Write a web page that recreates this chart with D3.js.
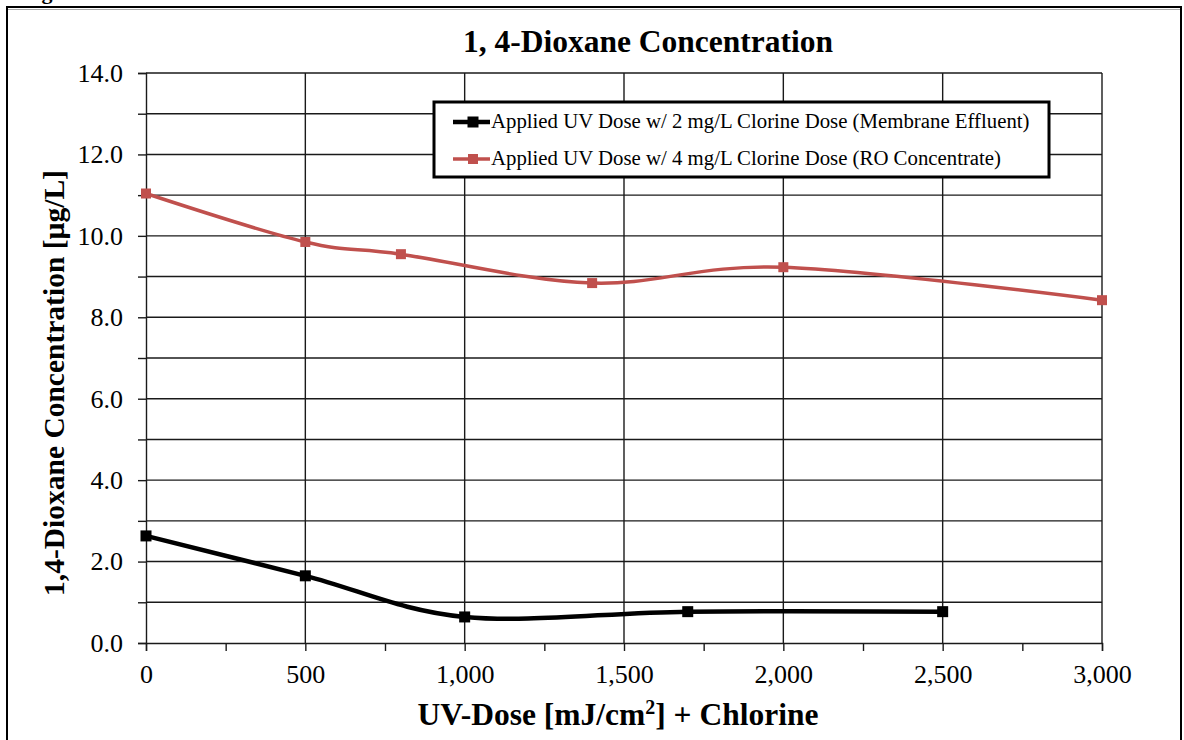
<!DOCTYPE html>
<html>
<head>
<meta charset="utf-8">
<script src="https://cdn.jsdelivr.net/npm/d3@7"></script>
<style>
  html, body { margin: 0; padding: 0; background: #fff; }
  svg { display: block; }
  text { font-family: "Liberation Serif", "Times New Roman", serif; fill: #000; }
</style>
</head>
<body>
<svg id="chart" width="1184" height="740"></svg>
<script>
// UV dose (mJ/cm²) and 1,4-dioxane concentration (µg/L)
const membraneDose = [0, 500, 1000, 1700, 2500];
const membraneConc = [2.63, 1.65, 0.64, 0.77, 0.77];
const roDose = [0, 500, 800, 1400, 2000, 3000];
const roConc = [11.04, 9.85, 9.55, 8.84, 9.23, 8.42];

const seriesNames = [
  "Applied UV Dose w/ 2 mg/L  Clorine Dose (Membrane Effluent)",
  "Applied UV Dose w/ 4 mg/L  Clorine Dose (RO Concentrate)"
];
const yTickValues = [0, 2, 4, 6, 8, 10, 12, 14];
const xTickValues = [0, 500, 1000, 1500, 2000, 2500, 3000];

const svg = d3.select("#chart");
const m = { left: 146, right: 1102, top: 73, bottom: 643 };

// outer frame
svg.append("rect").attr("x", 7).attr("y", 7).attr("width", 1174).attr("height", 740)
  .attr("fill", "none").attr("stroke", "#000").attr("stroke-width", 2);
svg.append("line").attr("x1", 8).attr("x2", 1180).attr("y1", 9.5).attr("y2", 9.5)
  .attr("stroke", "#aaa").attr("stroke-width", 1);
// caption running above the frame
svg.append("text").attr("x", 22).attr("y", -1).attr("font-size", 22).attr("font-weight", "bold")
  .text("Figure 4-10");

const x = d3.scaleLinear().domain([0, 3000]).range([m.left, m.right]);
const y = d3.scaleLinear().domain([0, 14]).range([m.bottom, m.top]);

// gridlines
const grid = svg.append("g").attr("stroke", "#1a1a1a").attr("stroke-width", 1.4);
d3.range(1, 15).forEach(v => {
  grid.append("line").attr("x1", m.left).attr("x2", m.right)
    .attr("y1", y(v)).attr("y2", y(v));
});
xTickValues.slice(1).forEach(v => {
  grid.append("line").attr("x1", x(v)).attr("x2", x(v))
    .attr("y1", m.top).attr("y2", m.bottom);
});

// y axis
const yAxis = d3.axisLeft(y).tickValues(d3.range(0, 15)).tickSize(8)
  .tickFormat(d => yTickValues.includes(d) ? d3.format(".1f")(d) : "");
const gy = svg.append("g").attr("transform", `translate(${m.left},0)`).call(yAxis);
gy.selectAll("path, line").attr("stroke", "#1a1a1a").attr("stroke-width", 1.4);
gy.selectAll("text").attr("font-size", 26).attr("font-family", "Liberation Serif")
  .attr("x", -23).attr("fill", "#000");

// x axis
const xAxis = d3.axisBottom(x).tickValues(d3.range(0, 3001, 250)).tickSize(8)
  .tickFormat(d => xTickValues.includes(d) ? d3.format(",")(d) : "");
const gx = svg.append("g").attr("transform", `translate(0,${m.bottom})`).call(xAxis);
gx.selectAll("path, line").attr("stroke", "#1a1a1a").attr("stroke-width", 1.4);
gx.selectAll("text").attr("font-size", 26).attr("font-family", "Liberation Serif")
  .attr("y", 22).attr("fill", "#000");

// titles
svg.append("text").attr("x", 648).attr("y", 52).attr("text-anchor", "middle")
  .attr("font-size", 31.5).attr("font-weight", "bold").text("1, 4-Dioxane Concentration");
svg.append("text").attr("transform", "translate(64,383) rotate(-90)")
  .attr("text-anchor", "middle").attr("font-size", 29.5).attr("font-weight", "bold")
  .text("1,4-Dioxane Concentration [µg/L]");
const xl = svg.append("text").attr("x", 618).attr("y", 725).attr("text-anchor", "middle")
  .attr("font-size", 31.5).attr("font-weight", "bold");
xl.append("tspan").text("UV-Dose [mJ/cm");
xl.append("tspan").attr("font-size", 20).attr("dy", -11).text("2");
xl.append("tspan").attr("dy", 11).text("] + Chlorine");

// series
const line = d3.line().x(d => x(d[0])).y(d => y(d[1])).curve(d3.curveCardinal.tension(0));
const series = [
  { dose: membraneDose, conc: membraneConc, color: "#000000", width: 4.5, size: 11 },
  { dose: roDose, conc: roConc, color: "#C0504D", width: 3.5, size: 10 }
];
series.forEach(s => {
  const pts = s.dose.map((d, i) => [d, s.conc[i]]);
  svg.append("path").datum(pts).attr("d", line).attr("fill", "none")
    .attr("stroke", s.color).attr("stroke-width", s.width).attr("stroke-linejoin", "round");
  svg.append("g").selectAll("rect").data(pts).join("rect")
    .attr("x", d => x(d[0]) - s.size / 2).attr("y", d => y(d[1]) - s.size / 2)
    .attr("width", s.size).attr("height", s.size).attr("fill", s.color);
});

// legend
const lg = svg.append("g");
lg.append("rect").attr("x", 434).attr("y", 102).attr("width", 615).attr("height", 75)
  .attr("fill", "#fff").attr("stroke", "#000").attr("stroke-width", 3);
series.forEach((s, i) => {
  const cy = 122 + i * 37;
  lg.append("line").attr("x1", 453).attr("x2", 490).attr("y1", cy).attr("y2", cy)
    .attr("stroke", s.color).attr("stroke-width", s.width);
  lg.append("rect").attr("x", 473 - s.size / 2).attr("y", cy - s.size / 2)
    .attr("width", s.size).attr("height", s.size).attr("fill", s.color);
  lg.append("text").attr("x", 491).attr("y", cy + 6).attr("font-size", 20.8)
    .text(seriesNames[i]);
});
</script>
</body>
</html>
